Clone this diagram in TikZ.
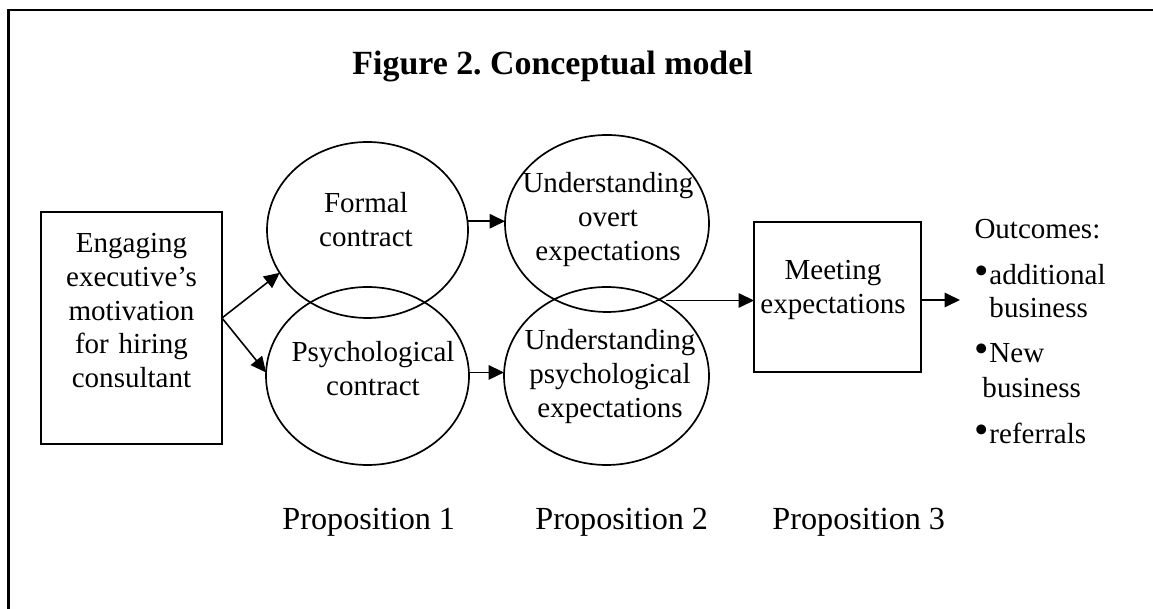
\documentclass[tikz,border=0pt]{standalone}
\usepackage{fontspec}
\setmainfont{Liberation Serif}
\usetikzlibrary{shapes.geometric,arrows.meta}
\newlength\pxu
\setlength\pxu{0.4132pt}
\newcommand\bigbul{\raisebox{0.3pt}{\fontsize{17}{17}\selectfont •}}
\frenchspacing
\begin{document}
\begin{tikzpicture}[x=0.4132pt,y=-0.4132pt,
  frame/.style={line width=0.9pt},
  shp/.style={draw, line width=0.7pt, inner sep=0pt, outer sep=0pt},
  oval/.style={shp, ellipse},
  boxx/.style={shp, rectangle},
  txt/.style={inner sep=0pt, align=center, text width=210\pxu, font=\fontsize{12}{13.85}\selectfont, anchor=base},
  ltxt/.style={inner sep=0pt, anchor=base west, font=\fontsize{12}{13.85}\selectfont},
  ptxt/.style={inner sep=0pt, anchor=base west, font=\fontsize{13.3}{15}\selectfont},
  arr/.style={line width=0.65pt, -{Triangle[length=6.4pt,width=6pt]}},
]
\useasboundingbox (0,0) rectangle (1153,609);
\draw[frame] (1160,10) -- (8.5,10) -- (8.5,615);

% title
\node[inner sep=0pt, anchor=base west, font=\fontsize{14}{16}\selectfont\bfseries] (title) at (352,75) {Figure 2. Conceptual model};

% shapes
\node[boxx, minimum width=181\pxu, minimum height=232\pxu] (eng) at (131.5,328) {};
\node[oval, minimum width=201\pxu, minimum height=176\pxu] (formal) at (367.5,230) {};
\node[oval, minimum width=203\pxu, minimum height=178\pxu] (psych) at (367.5,376) {};
\node[oval, minimum width=204\pxu, minimum height=177\pxu] (overt) at (607,223.5) {};
\node[oval, minimum width=205\pxu, minimum height=178\pxu] (upsych) at (606.5,376) {};
\node[boxx, minimum width=167\pxu, minimum height=150\pxu] (meet) at (837.5,297) {};

% texts
\node[txt] (engT) at (131.5,253) {Engaging\\executive’s\\motivation\\for hiring\\consultant};
\node[txt] (formalT) at (366,213) {Formal\\contract};
\node[txt] (psychT) at (373,362) {Psychological\\contract};
\node[txt] (overtT) at (608,193) {Understanding\\overt\\expectations};
\node[txt] (upsychT) at (610,350) {Understanding\\psychological\\expectations};
\node[txt] (meetT) at (833,280) {Meeting\\expectations};

% outcomes
\node[ltxt] (outc) at (974,239) {Outcomes:};
\node[ltxt] (b1) at (974,285) {\bigbul};
\node[ltxt] (o1) at (989,285) {additional};
\node[ltxt] (o1b) at (989,318) {business};
\node[ltxt] (b2) at (974,363) {\bigbul};
\node[ltxt] (o2) at (989,363) {New};
\node[ltxt] (o2b) at (982,398) {business};
\node[ltxt] (b3) at (974,444) {\bigbul};
\node[ltxt] (o3) at (989,444) {referrals};

% propositions
\node[ptxt] (p1) at (282,530) {Proposition 1};
\node[ptxt] (p2) at (535,530) {Proposition 2};
\node[ptxt] (p3) at (772,530) {Proposition 3};

% arrows
\draw[arr] ([yshift=10\pxu]eng.east) -- (formal.206);
\draw[arr] ([yshift=10\pxu]eng.east) -- (psych.178);
\draw[arr] (formal.5) -- (formal.5 -| overt.west);
\draw[arr] (psych.2) -- (psych.2 -| upsych.west);
\coordinate (ostart) at (666,300.5);
\draw[arr] (ostart) -- (ostart -| meet.west);
\coordinate (oend) at (960,300);
\draw[arr] (meet.east |- oend) -- (oend);
\end{tikzpicture}
\end{document}
